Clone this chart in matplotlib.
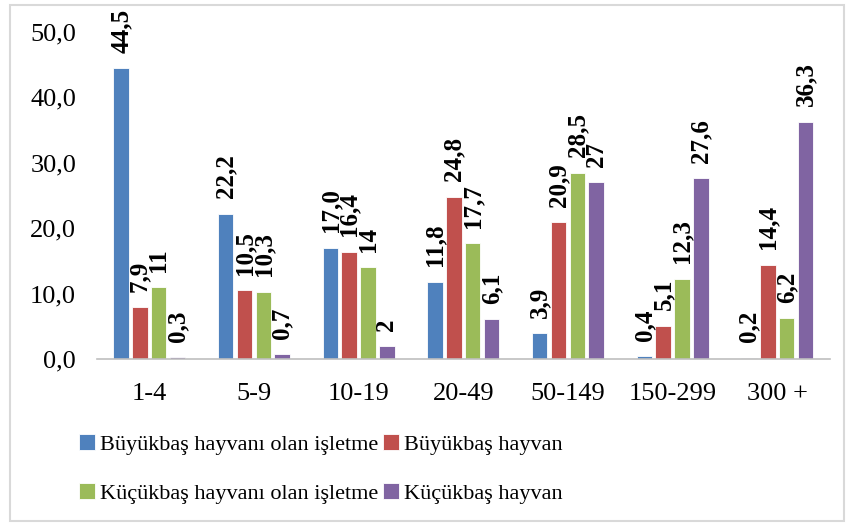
import matplotlib.pyplot as plt
import numpy as np
from matplotlib.patches import Rectangle

# Gruplar ve seriler
gruplar = ['1-4', '5-9', '10-19', '20-49', '50-149', '150-299', '300 +']
seriler = ['Büyükbaş hayvanı olan işletme', 'Büyükbaş hayvan',
           'Küçükbaş hayvanı olan işletme', 'Küçükbaş hayvan']
buyukbas_isletme = [44.5, 22.2, 17.0, 11.8, 3.9, 0.4, 0.2]
buyukbas_hayvan = [7.9, 10.5, 16.4, 24.8, 20.9, 5.1, 14.4]
kucukbas_isletme = [11, 10.3, 14, 17.7, 28.5, 12.3, 6.2]
kucukbas_hayvan = [0.3, 0.7, 2, 6.1, 27, 27.6, 36.3]
# Etiketler (orijinaldeki yazım)
etiketler = [
    ['44,5', '22,2', '17,0', '11,8', '3,9', '0,4', '0,2'],
    ['7,9', '10,5', '16,4', '24,8', '20,9', '5,1', '14,4'],
    ['11', '10,3', '14', '17,7', '28,5', '12,3', '6,2'],
    ['0,3', '0,7', '2', '6,1', '27', '27,6', '36,3'],
]
renkler = ['#4F81BD', '#C0504D', '#9BBB59', '#8064A2']

plt.rcParams['font.family'] = ['Liberation Serif', 'DejaVu Serif']

fig = plt.figure(figsize=(8.47, 5.24), dpi=100)
ax = fig.add_axes([0.1145, 0.315, 0.865, 0.624])

veriler = [buyukbas_isletme, buyukbas_hayvan, kucukbas_isletme, kucukbas_hayvan]
x = np.arange(len(gruplar))
adim = 0.18
genislik = 0.148
cubuklar = []
for i, seri in enumerate(veriler):
    konum = x + (i - 1.5) * adim
    b = ax.bar(konum, seri, genislik, color=renkler[i], edgecolor='white',
               linewidth=0.6, label=seriler[i])
    cubuklar.append(b)
    for xi, yi, et in zip(konum, seri, etiketler[i]):
        ax.annotate(et, (xi, yi), xytext=(0, 11), textcoords='offset points',
                    rotation=90, ha='center', va='bottom', fontsize=18,
                    fontweight='bold', annotation_clip=False)

ax.set_xlim(-0.5, len(gruplar) - 0.5)
ax.set_ylim(0, 50)
ax.set_yticks(range(0, 51, 10))
ax.set_yticklabels([f'{v},0' for v in range(0, 51, 10)])
ax.set_xticks(x)
ax.set_xticklabels(gruplar)
ax.tick_params(length=0, labelsize=19)
ax.tick_params(axis='y', pad=15)
ax.tick_params(axis='x', pad=17)
for s in ['top', 'right', 'left']:
    ax.spines[s].set_visible(False)
ax.spines['bottom'].set_color('#BFBFBF')
ax.spines['bottom'].set_linewidth(1.2)

# satır satır sıralama için
sira = [0, 2, 1, 3]
fig.legend([cubuklar[k] for k in sira], [seriler[k] for k in sira],
           loc='lower left', bbox_to_anchor=(0.07, 0.0), ncol=2,
           frameon=False, fontsize=16, handlelength=0.7, handleheight=0.7,
           handletextpad=0.25, columnspacing=0.2, labelspacing=1.3)

fig.patches.append(Rectangle((0.012, 0.005), 0.985, 0.985, transform=fig.transFigure,
                             fill=False, edgecolor='#D9D9D9', linewidth=1.5))

plt.savefig('out.png', dpi=100)
